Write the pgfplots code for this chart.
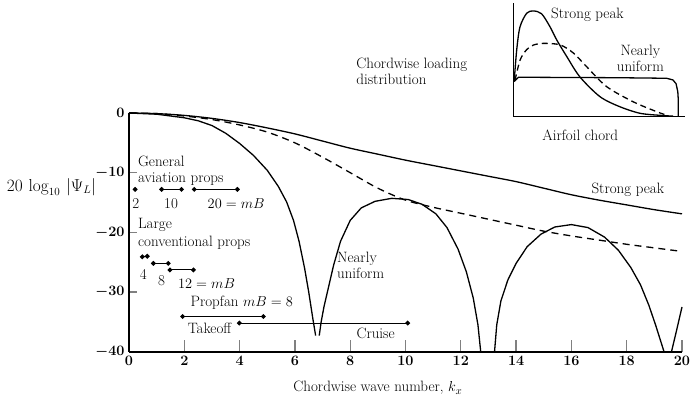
\documentclass[border=0pt]{standalone}
\usepackage{pgfplots}
\pgfplotsset{compat=1.18}
\begin{document}
\begin{tikzpicture}[every node/.append style={font=\fontsize{15}{16}\selectfont}]
\path[use as bounding box] (0,0) rectangle (691pt,402pt);
% ---------------- main axis ----------------
\begin{axis}[
  at={(129pt,50.3pt)}, anchor=south west,
  scale only axis, width=553pt, height=238.7pt,
  xmin=0, xmax=20, ymin=-40, ymax=0,
  axis lines*=left,
  axis line style={line width=1.6pt},
  enlargelimits=false, clip=false,
  xtick={0,2,...,20}, ytick={-40,-30,-20,-10,0},
  tick align=inside,
  xtick style={line width=1.3pt, /pgfplots/major tick length=12pt},
  ytick style={line width=1.3pt, /pgfplots/major tick length=8pt},
  ticklabel style={font=\fontsize{15}{16}\selectfont\boldmath},
  xticklabel style={yshift=-1pt},
  yticklabel style={xshift=-1pt},
  xlabel={Chordwise wave number, $k_x$},
  xlabel style={at={(axis description cs:0.45,-0.11)}, anchor=north, font=\fontsize{15}{16}\selectfont},
  ylabel={$20\,\log_{10}\,|\Psi_L|$},
  ylabel style={at={(axis description cs:-0.14,0.69)}, anchor=center, rotate=-90, font=\fontsize{16}{17}\selectfont},
]
% Strong peak
\addplot[black, line width=1.3pt, smooth] coordinates {
(0,0) (1,-0.1) (2,-0.4) (3,-0.9) (4,-1.6) (5,-2.5) (6,-3.5) (7,-4.7) (8,-5.9) (9,-6.9) (10,-7.9) (11,-8.8) (12,-9.7) (13,-10.6) (14,-11.5) (15,-12.6) (16,-13.7) (17,-14.6) (18,-15.4) (19,-16.2) (20,-16.9)};
% dashed
\addplot[black, line width=1.3pt, smooth, dash pattern=on 7pt off 5pt] coordinates {
(0,0) (1,-0.1) (2,-0.5) (3,-1.1) (4,-2.0) (5,-3.2) (6,-5.0) (7,-7.4) (8,-10.0) (9,-12.6) (10,-14.6) (11,-15.8) (12,-16.8) (13,-17.8) (14,-18.8) (15,-19.8) (16,-20.6) (17,-21.3) (18,-22.0) (19,-22.6) (20,-23.2)};
% Nearly uniform
\addplot[black, line width=1.3pt] coordinates {
(0,0) (1,-0.2) (2,-0.8) (2.5,-1.3) (3,-2.1) (3.5,-3.4) (4,-5.1) (4.5,-7.1) (5,-9.6) (5.4,-12.3) (5.7,-14.9) (5.95,-18.0) (6.15,-21.5) (6.35,-26.0) (6.5,-30.0) (6.65,-34.5) (6.75,-37.3)};
\addplot[black, line width=1.3pt] coordinates {
(6.88,-37.3) (6.95,-35.0) (7.05,-32.5) (7.2,-29.5) (7.4,-25.5) (7.65,-21.5) (8.0,-18.0) (8.4,-15.9) (8.9,-14.8) (9.5,-14.3) (10.1,-14.5) (10.6,-15.3) (11.1,-16.9) (11.5,-19.2) (11.9,-22.8) (12.2,-26.6) (12.45,-31.0) (12.62,-35.5) (12.72,-40)};
\addplot[black, line width=1.3pt] coordinates {
(13.22,-40) (13.3,-35.5) (13.45,-31.5) (13.7,-28.0) (14.0,-25.2) (14.4,-22.4) (14.9,-20.3) (15.4,-19.1) (16.0,-18.7) (16.6,-19.2) (17.2,-20.8) (17.7,-23.0) (18.15,-25.9) (18.5,-28.8) (18.8,-32.2) (19.05,-35.6) (19.35,-40)};
\addplot[black, line width=1.3pt] coordinates {
(19.62,-40) (19.8,-36.5) (20,-32.5)};
% General aviation props
\addplot[black, line width=1.1pt, mark=*, mark size=1.8pt, only marks] coordinates {(0.22,-12.8)};
\addplot[black, line width=1.1pt, mark=*, mark size=1.8pt] coordinates {(1.18,-12.8) (1.90,-12.8)};
\addplot[black, line width=1.1pt, mark=*, mark size=1.8pt] coordinates {(2.36,-12.8) (3.92,-12.8)};
% Large conventional props
\addplot[black, line width=1.1pt, mark=*, mark size=1.8pt] coordinates {(0.48,-24.1) (0.66,-24.0)};
\addplot[black, line width=1.1pt, mark=*, mark size=1.8pt] coordinates {(0.88,-25.2) (1.42,-25.2)};
\addplot[black, line width=1.1pt, mark=*, mark size=1.8pt] coordinates {(1.48,-26.3) (2.33,-26.3)};
% Propfan
\addplot[black, line width=1.1pt, mark=*, mark size=1.8pt] coordinates {(1.94,-34.1) (4.86,-34.1)};
\addplot[black, line width=1.1pt, mark=*, mark size=1.8pt] coordinates {(3.99,-35.2) (10.08,-35.2)};
% texts
\node[anchor=west] at (axis cs:0.2,-8.1) {General};
\node[anchor=west] at (axis cs:0.2,-11.1) {aviation props};
\node at (axis cs:0.25,-15.2) {2};
\node at (axis cs:1.52,-15.2) {10};
\node[anchor=west] at (axis cs:2.72,-15.2) {$20 = mB$};
\node[anchor=west] at (axis cs:0.2,-18.8) {Large};
\node[anchor=west] at (axis cs:0.2,-21.8) {conventional props};
\node at (axis cs:0.52,-27.0) {4};
\node at (axis cs:1.18,-28.1) {8};
\node[anchor=west] at (axis cs:1.65,-28.6) {$12 = mB$};
\node[anchor=west] at (axis cs:2.1,-31.8) {Propfan $mB = 8$};
\node[anchor=west] at (axis cs:2.0,-36.1) {Takeoff};
\node[anchor=west] at (axis cs:8.1,-37.0) {Cruise};
\node[anchor=west, align=left, inner sep=0pt] at (axis cs:7.52,-25.6) {Nearly\\uniform};
\node[anchor=west] at (axis cs:16.6,-12.9) {Strong peak};
\end{axis}
% ---------------- inset ----------------
\begin{axis}[
  at={(513.3pt,285.3pt)}, anchor=south west,
  scale only axis, width=171.7pt, height=113.7pt,
  xmin=0, xmax=1, ymin=0, ymax=1,
  axis lines*=left, axis line style={line width=1.6pt},
  ticks=none, enlargelimits=false, clip=false,
]
\addplot[black, line width=1.3pt, smooth] coordinates {
(0.005,0.31) (0.02,0.59) (0.039,0.79) (0.078,0.91) (0.117,0.93) (0.165,0.905) (0.214,0.79) (0.253,0.675) (0.311,0.53) (0.388,0.35) (0.505,0.176) (0.62,0.088) (0.738,0.03) (0.854,0.012) (0.93,0.005)};
\addplot[black, line width=1.3pt, smooth, dash pattern=on 6pt off 4pt] coordinates {
(0.01,0.32) (0.04,0.5) (0.078,0.59) (0.117,0.63) (0.175,0.645) (0.272,0.632) (0.35,0.56) (0.427,0.44) (0.544,0.264) (0.7,0.13) (0.835,0.044) (0.88,0.02)};
\addplot[black, line width=1.3pt] coordinates {
(0.005,0.31) (0.03,0.347) (0.3,0.345) (0.6,0.343) (0.893,0.338) (0.93,0.323) (0.948,0.29) (0.958,0.22) (0.961,0.147) (0.961,0)};
\node[anchor=west] at (axis cs:0.2,0.895) {Strong peak};
\node[align=center, inner sep=0pt] at (axis cs:0.74,0.51) {Nearly\\uniform};
\node at (axis cs:0.39,-0.16) {Airfoil chord};
\node[anchor=west, align=left, inner sep=0pt] at (axis cs:-0.915,0.40) {Chordwise loading\\distribution};
\end{axis}
\end{tikzpicture}
\end{document}
